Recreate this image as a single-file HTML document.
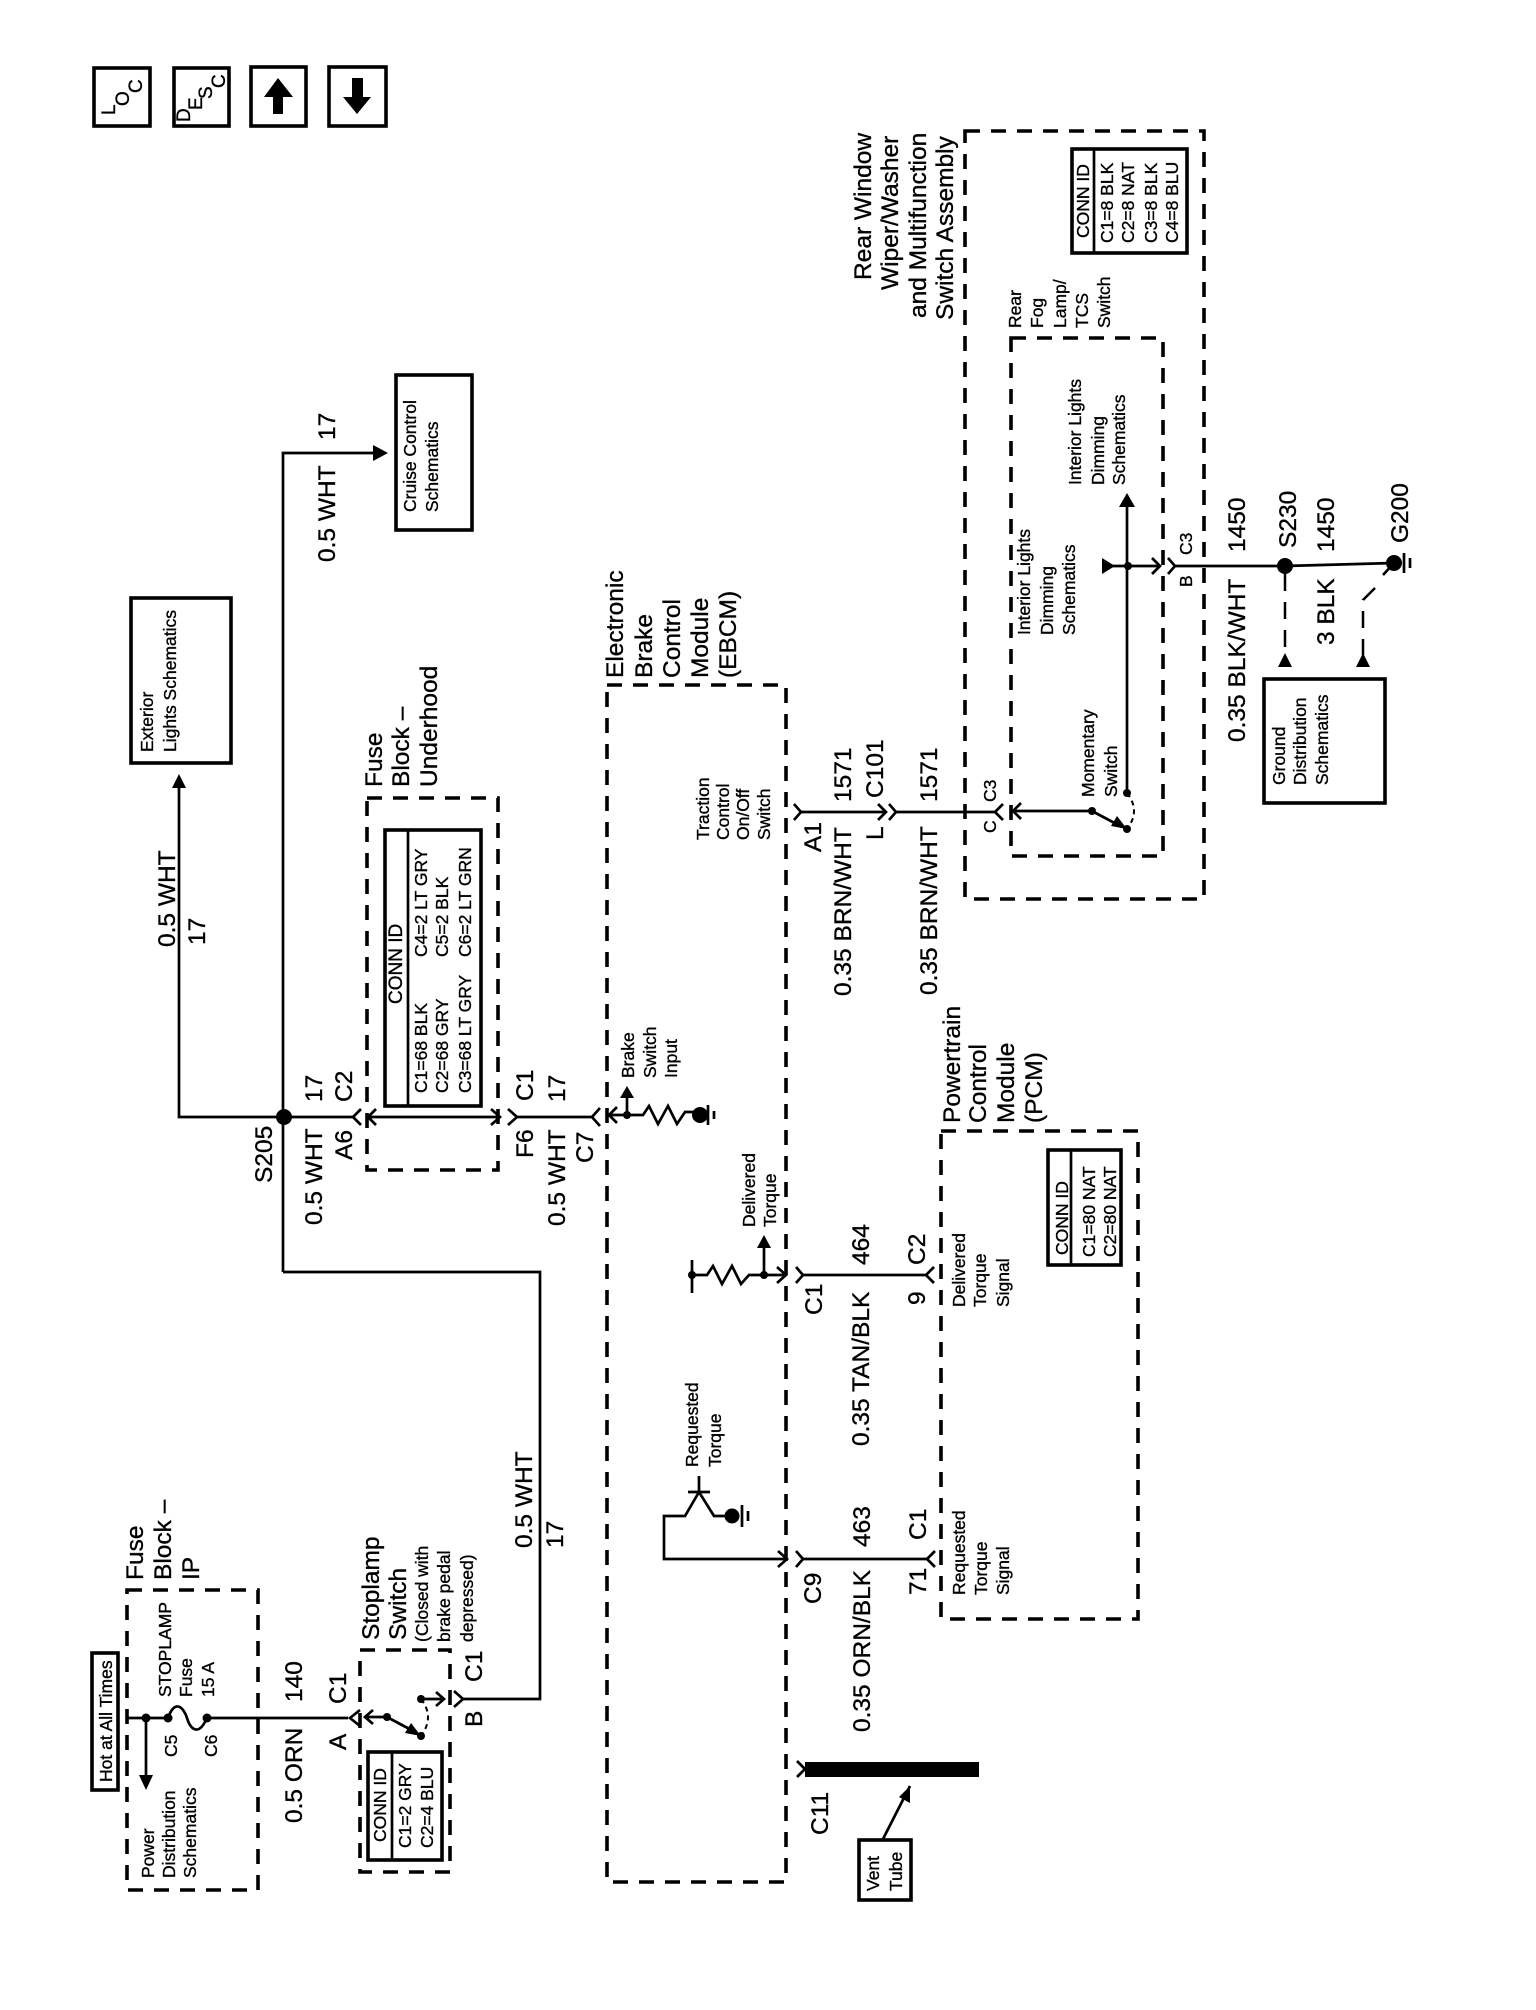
<!DOCTYPE html>
<html><head><meta charset="utf-8"><title>Stoplamp wiring schematic</title>
<style>
html,body{margin:0;padding:0;background:#fff}
svg{display:block}
text{font-family:"Liberation Sans",sans-serif;fill:#000;stroke:#000;stroke-width:.35}
.b text,text.b{font-size:24.5px}
.s text,text.s{font-size:17.5px}
.w{fill:none;stroke:#000;stroke-width:2.7}
.d{fill:none;stroke:#000;stroke-width:3.6;stroke-dasharray:15 11}
.k{fill:#000;stroke:none}
.r{fill:#fff;stroke:#000;stroke-width:3.6}
</style></head><body>
<svg width="1536" height="2010" viewBox="0 0 1536 2010" xmlns="http://www.w3.org/2000/svg">
<rect width="1536" height="2010" fill="#fff"/>

<!-- top icons -->
<rect class="r" x="94" y="68" width="56" height="58"/>
<rect class="r" x="174" y="68" width="55" height="58"/>
<rect class="r" x="251" y="67" width="55" height="59"/>
<rect class="r" x="329" y="67" width="57" height="59"/>
<polygon class="k" points="278,78 293,97 283,97 283,114 273,114 273,97 264,97"/>
<polygon class="k" points="352,78 363,78 363,97 371,97 357,114 343,97 352,97"/>

<!-- dashed enclosures -->
<rect class="d" x="127" y="1590" width="131" height="300"/>
<rect class="d" x="360" y="1650" width="90" height="222"/>
<rect class="d" x="367" y="798" width="131" height="372"/>
<rect class="d" x="607" y="685" width="179" height="1197"/>
<rect class="d" x="941" y="1131" width="197" height="488"/>
<rect class="d" x="965" y="131" width="239" height="768"/>
<rect class="d" x="1011" y="338" width="152" height="518"/>

<!-- solid boxes -->
<rect class="r" x="92" y="1653" width="26" height="137"/>
<rect class="r" x="131" y="598" width="100" height="165"/>
<rect class="r" x="396" y="375" width="76" height="155"/>
<rect class="r" x="1264" y="679" width="121" height="124"/>
<rect class="r" x="859" y="1840" width="52" height="60"/>
<rect class="r" x="368" y="1752" width="74" height="108"/>
<path class="w" d="M392 1752V1860"/>
<rect class="r" x="385" y="830" width="96" height="276"/>
<path class="w" d="M408 830V1106"/>
<rect class="r" x="1048" y="1150" width="73" height="115"/>
<path class="w" d="M1071 1150V1265"/>
<rect class="r" x="1072" y="149" width="115" height="104"/>
<path class="w" d="M1094 149V253"/>

<!-- wires -->
<g class="w">
<path d="M127 1718H168M207 1718H348"/>
<path d="M168 1718C175 1698 184 1708 187 1718S198 1738 207 1718"/>
<path d="M146 1718V1778"/>
<path d="M365 1717H387L417 1733"/>
<path d="M421 1699H443M463 1699H540V1272H283"/>
<path d="M283 1272V453H376"/>
<path d="M179 787V1117H353M368 1117H500M517 1117H592"/>
<path d="M609 1115H643l6-9 9 18 10-18 9 18 8-12 H700"/>
<path d="M627 1115V1096"/>
<path d="M692 1260V1293M692 1275H707l6-9 9 18 10-18 9 18 8-9H786"/>
<path d="M764 1275V1246"/>
<path d="M803 1275H926"/>
<path d="M699 1476V1492M688 1492H710M699 1492L685 1516H664V1559H787M699 1492L714 1516H732"/>
<path d="M803 1559H927"/>
<path d="M801 812H886M896 812H995M1013 811H1092L1122 827"/>
<path d="M1127 793V505"/>
<path d="M1112 566H1160M1175 566H1285L1394 563"/>
<path d="M1394 563L1383 575"/>
<path d="M910 1786L883 1839"/>
<!-- connector chevrons -->
<path d="M360 1710L350 1718L360 1726M373 1710L365 1717L373 1724"/>
<path d="M436 1692L444 1699L436 1706M454 1691L463 1699L454 1707"/>
<path d="M361 1109L353 1117L361 1125M376 1109L368 1117L376 1125"/>
<path d="M491 1109L500 1117L491 1125M508 1109L517 1117L508 1125"/>
<path d="M600 1108L592 1117L600 1126M617 1107L609 1115L617 1123"/>
<path d="M777 1267L786 1275L777 1283M796 1267L803 1275L796 1283"/>
<path d="M934 1267L926 1275L934 1283"/>
<path d="M778 1551L787 1559L778 1567M796 1551L803 1559L796 1567"/>
<path d="M935 1551L927 1559L935 1567"/>
<path d="M794 804L801 812L794 820"/>
<path d="M878 804L886 812L878 820M889 804L896 812L889 820"/>
<path d="M1003 804L995 812L1003 820M1021 803L1013 811L1021 819"/>
<path d="M1152 558L1160 566L1152 574M1168 558L1175 566L1168 574"/>
<path d="M797 1761L805 1769L797 1777"/>
</g>
<path d="M421 1699Q435 1717 421 1736" fill="none" stroke="#000" stroke-width="2" stroke-dasharray="5 4"/>
<path d="M1127 793Q1141 811 1127 829" fill="none" stroke="#000" stroke-width="2" stroke-dasharray="5 4"/>
<path d="M1285 574V655M1375 588L1363 600V655" fill="none" stroke="#000" stroke-width="2.5" stroke-dasharray="17 11"/>
<rect class="k" x="805" y="1762" width="174" height="15"/>

<!-- arrowheads -->
<g class="k">
<polygon points="146,1790 139,1775 153,1775"/>
<polygon points="179,774 172,788 186,788"/>
<polygon points="388,453 373,445 373,461"/>
<polygon points="627,1086 620,1098 634,1098"/>
<polygon points="764,1235 757,1248 771,1248"/>
<polygon points="1127,493 1119,507 1135,507"/>
<polygon points="1115,566 1102,558 1102,574"/>
<polygon points="1285,653 1278,667 1292,667"/>
<polygon points="1363,653 1356,667 1370,667"/>
<polygon points="910,1786 899,1797 910,1803"/>
<polygon points="421,1736 405,1733 411,1723"/>
<polygon points="1127,829 1111,826 1117,816"/>
</g>

<!-- dots -->
<g class="k">
<circle cx="146" cy="1718" r="4.5"/><circle cx="168" cy="1718" r="4.5"/><circle cx="207" cy="1718" r="4.5"/>
<circle cx="387" cy="1717" r="4"/><circle cx="421" cy="1699" r="4"/><circle cx="421" cy="1736" r="4"/>
<circle cx="284" cy="1117" r="8"/>
<circle cx="627" cy="1115" r="4"/><circle cx="700" cy="1115" r="8"/>
<circle cx="692" cy="1275" r="4"/><circle cx="764" cy="1275" r="4"/>
<circle cx="732" cy="1516" r="7.5"/>
<circle cx="1092" cy="811" r="4"/><circle cx="1127" cy="793" r="4"/><circle cx="1127" cy="829" r="4"/>
<circle cx="1128" cy="566" r="4"/>
<circle cx="1285" cy="566" r="8"/><circle cx="1394" cy="563" r="8"/>
</g>
<!-- ground symbols -->
<path class="w" d="M708 1105V1125M714 1111V1119M742 1505V1527M748 1511V1521M1404 553V573M1410 558V568"/>

<!-- rotated labels: x = -(bottom y), y = baseline x -->
<g transform="rotate(-90)">
<g class="s">
<text x="-1782" y="112" font-size="18.5">Hot at All Times</text>
<text x="-1697" y="171">STOPLAMP</text>
<text x="-1697" y="192">Fuse</text>
<text x="-1697" y="214">15 A</text>
<text x="-1757" y="177">C5</text>
<text x="-1757" y="217">C6</text>
<text x="-1878" y="154">Power</text>
<text x="-1878" y="175">Distribution</text>
<text x="-1878" y="196">Schematics</text>
<text x="-1642" y="428">(Closed with</text>
<text x="-1642" y="450">brake pedal</text>
<text x="-1642" y="473">depressed)</text>
<text x="-1842" y="386">CONN ID</text>
<text x="-1848" y="411">C1=2 GRY</text>
<text x="-1848" y="433">C2=4 BLU</text>
<text x="-752" y="153">Exterior</text>
<text x="-752" y="176">Lights Schematics</text>
<text x="-512" y="416">Cruise Control</text>
<text x="-512" y="438">Schematics</text>
<text x="-1004" y="402" style="font-size:19px">CONN ID</text>
<text x="-1093" y="427">C1=68 BLK</text>
<text x="-1093" y="448">C2=68 GRY</text>
<text x="-1093" y="471">C3=68 LT GRY</text>
<text x="-957" y="427">C4=2 LT GRY</text>
<text x="-957" y="448">C5=2 BLK</text>
<text x="-957" y="471">C6=2 LT GRN</text>
<text x="-840" y="709">Traction</text>
<text x="-840" y="729">Control</text>
<text x="-840" y="749">On/Off</text>
<text x="-840" y="770">Switch</text>
<text x="-1078" y="634">Brake</text>
<text x="-1078" y="656">Switch</text>
<text x="-1078" y="677">Input</text>
<text x="-1227" y="755">Delivered</text>
<text x="-1227" y="776">Torque</text>
<text x="-1467" y="698">Requested</text>
<text x="-1467" y="721">Torque</text>
<text x="-1307" y="965">Delivered</text>
<text x="-1307" y="986">Torque</text>
<text x="-1307" y="1009">Signal</text>
<text x="-1595" y="965">Requested</text>
<text x="-1595" y="987">Torque</text>
<text x="-1595" y="1009">Signal</text>
<text x="-1255" y="1068">CONN ID</text>
<text x="-1257" y="1095">C1=80 NAT</text>
<text x="-1257" y="1116">C2=80 NAT</text>
<text x="-1891" y="879">Vent</text>
<text x="-1891" y="902">Tube</text>
<text x="-238" y="1089">CONN ID</text>
<text x="-243" y="1113">C1=8 BLK</text>
<text x="-243" y="1134">C2=8 NAT</text>
<text x="-243" y="1157">C3=8 BLK</text>
<text x="-243" y="1178">C4=8 BLU</text>
<text x="-328" y="1021">Rear</text>
<text x="-328" y="1043">Fog</text>
<text x="-328" y="1066">Lamp/</text>
<text x="-328" y="1088">TCS</text>
<text x="-328" y="1110">Switch</text>
<text x="-485" y="1081">Interior Lights</text>
<text x="-485" y="1104">Dimming</text>
<text x="-485" y="1125">Schematics</text>
<text x="-635" y="1030">Interior Lights</text>
<text x="-635" y="1053">Dimming</text>
<text x="-635" y="1075">Schematics</text>
<text x="-797" y="1094">Momentary</text>
<text x="-797" y="1117">Switch</text>
<text x="-802" y="996">C3</text>
<text x="-833" y="996">C</text>
<text x="-555" y="1192">C3</text>
<text x="-587" y="1192">B</text>
<text x="-785" y="1285">Ground</text>
<text x="-785" y="1306">Distribution</text>
<text x="-785" y="1328">Schematics</text>
</g>
<g class="b">
<text x="-1580" y="143">Fuse</text>
<text x="-1580" y="171">Block –</text>
<text x="-1580" y="199">IP</text>
<text x="-1823" y="302">0.5 ORN</text>
<text x="-1702" y="302">140</text>
<text x="-1704" y="346">C1</text>
<text x="-1750" y="346">A</text>
<text x="-1640" y="379">Stoplamp</text>
<text x="-1640" y="406">Switch</text>
<text x="-1682" y="482">C1</text>
<text x="-1727" y="482">B</text>
<text x="-1548" y="532">0.5 WHT</text>
<text x="-1548" y="563">17</text>
<text x="-947" y="175">0.5 WHT</text>
<text x="-945" y="205">17</text>
<text x="-562" y="335">0.5 WHT</text>
<text x="-440" y="335">17</text>
<text x="-787" y="382">Fuse</text>
<text x="-787" y="409">Block –</text>
<text x="-787" y="437">Underhood</text>
<text x="-1183" y="272">S205</text>
<text x="-1225" y="322">0.5 WHT</text>
<text x="-1102" y="322">17</text>
<text x="-1102" y="352">C2</text>
<text x="-1160" y="352">A6</text>
<text x="-1101" y="533">C1</text>
<text x="-1158" y="533">F6</text>
<text x="-1226" y="565">0.5 WHT</text>
<text x="-1102" y="565">17</text>
<text x="-1163" y="593">C7</text>
<text x="-678" y="623">Electronic</text>
<text x="-678" y="652">Brake</text>
<text x="-678" y="680">Control</text>
<text x="-678" y="708">Module</text>
<text x="-678" y="736">(EBCM)</text>
<text x="-1123" y="960">Powertrain</text>
<text x="-1123" y="986">Control</text>
<text x="-1123" y="1014">Module</text>
<text x="-1123" y="1042">(PCM)</text>
<text x="-1315" y="822">C1</text>
<text x="-1265" y="869">464</text>
<text x="-1446" y="869">0.35 TAN/BLK</text>
<text x="-1265" y="925">C2</text>
<text x="-1305" y="925">9</text>
<text x="-1604" y="821">C9</text>
<text x="-1547" y="870">463</text>
<text x="-1732" y="870">0.35 ORN/BLK</text>
<text x="-1540" y="926">C1</text>
<text x="-1595" y="926">71</text>
<text x="-1835" y="828">C11</text>
<text x="-852" y="821">A1</text>
<text x="-802" y="851">1571</text>
<text x="-996" y="851">0.35 BRN/WHT</text>
<text x="-798" y="883">C101</text>
<text x="-840" y="883">L</text>
<text x="-802" y="937">1571</text>
<text x="-995" y="937">0.35 BRN/WHT</text>
<text x="-552" y="1245">1450</text>
<text x="-742" y="1245">0.35 BLK/WHT</text>
<text x="-548" y="1296">S230</text>
<text x="-552" y="1334">1450</text>
<text x="-645" y="1334">3 BLK</text>
<text x="-543" y="1408">G200</text>
<text x="-280" y="871">Rear Window</text>
<text x="-290" y="898">Wiper/Washer</text>
<text x="-318" y="926">and Multifunction</text>
<text x="-320" y="953">Switch Assembly</text>
</g>
</g>

<!-- LOC / DESC icon letters -->
<g font-size="19">
<text transform="translate(115 115) rotate(-90)">L</text>
<text transform="translate(129 106) rotate(-90)">O</text>
<text transform="translate(142 93) rotate(-90)">C</text>
<text transform="translate(190 122) rotate(-90)">D</text>
<text transform="translate(202 110) rotate(-90)">E</text>
<text transform="translate(212 99) rotate(-90)">S</text>
<text transform="translate(225 88) rotate(-90)">C</text>
</g>
</svg>
</body></html>
